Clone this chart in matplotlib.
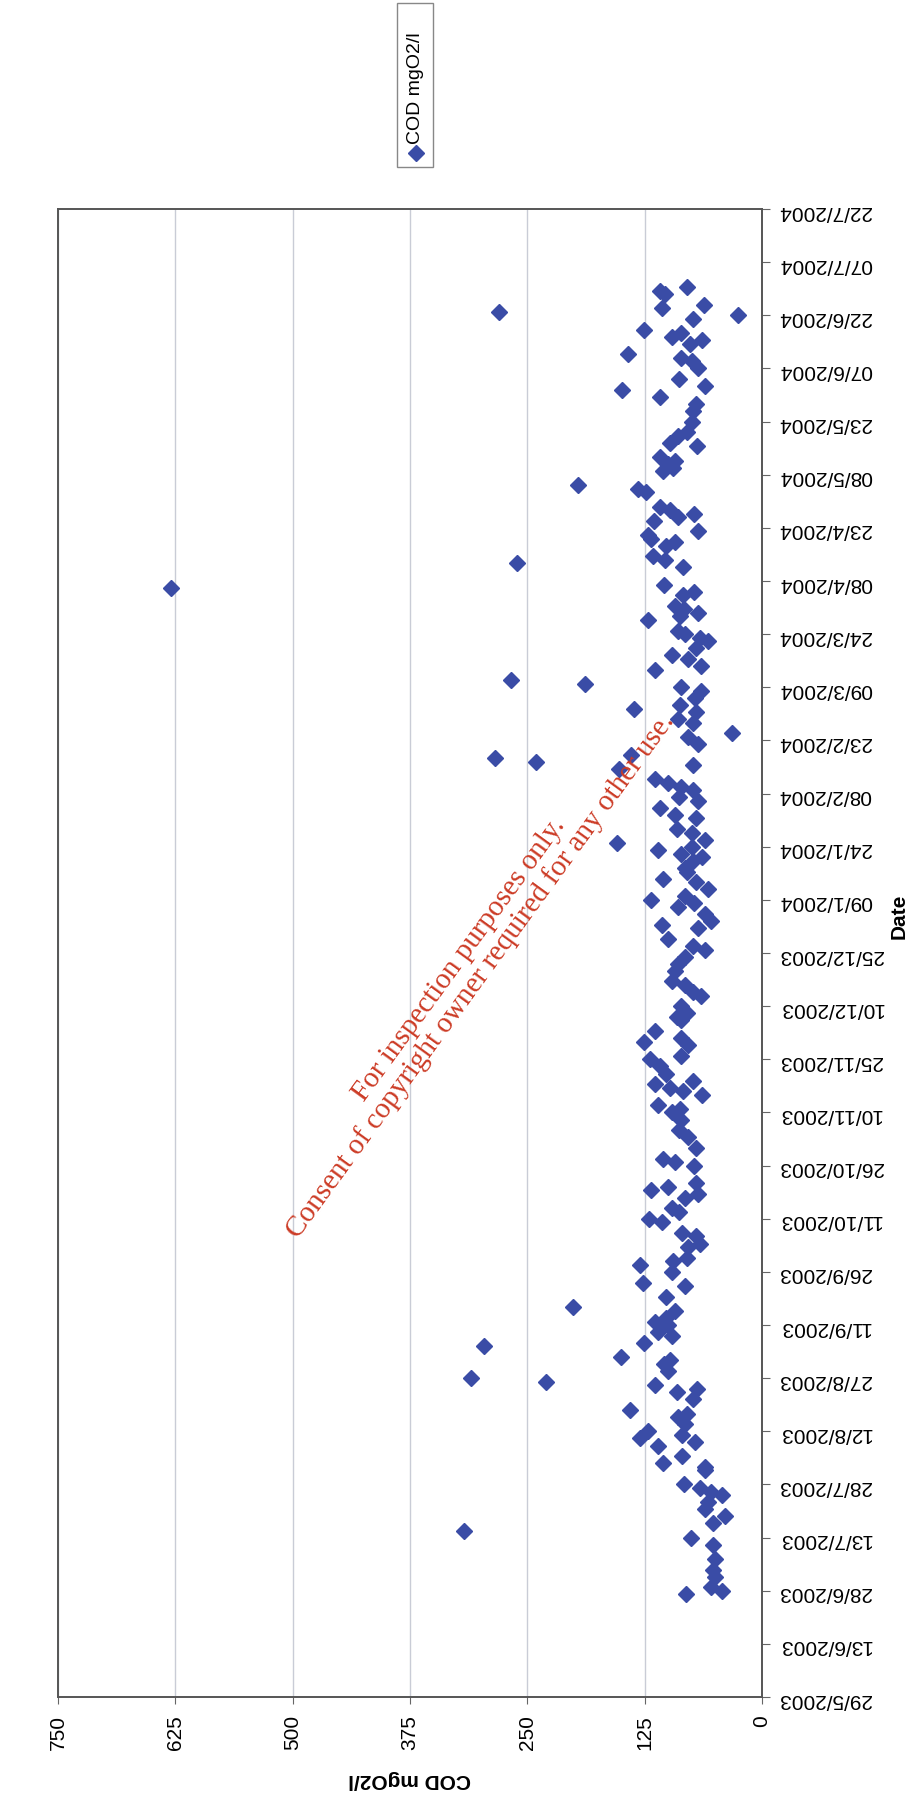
import matplotlib; matplotlib.use('Agg')
import matplotlib.pyplot as plt
from matplotlib.lines import Line2D
from matplotlib.patches import Rectangle
import matplotlib.dates as mdates
import numpy as np
import pandas as pd

plt.rcParams.update({'font.family': ['Liberation Sans', 'DejaVu Sans'], 'font.size': 15})

start = pd.Timestamp('2003-05-29')
end = pd.Timestamp('2004-07-22')

# sampling day (days after 29/5/2003) and COD reading in mgO2/l
day = [29, 30, 31, 34, 36, 39, 43, 45, 47, 49, 51, 53, 55, 57, 58, 59, 60, 64, 65, 66,
       68, 71, 72, 73, 74, 75, 77, 79, 80, 81, 84, 86, 87, 88, 89, 90, 92, 94, 95, 96,
       99, 100, 102, 103, 105, 106, 107, 109, 110, 113, 116, 117, 120, 122, 123, 124, 127, 128, 130, 131,
       134, 135, 137, 138, 141, 142, 143, 144, 145, 150, 151, 152, 155, 158, 160, 163, 165, 166, 167, 170,
       171, 172, 173, 174, 176, 178, 180, 181, 184, 185, 186, 188, 191, 192, 193, 195, 198, 199, 201, 202,
       205, 207, 209, 211, 212, 214, 217, 218, 219, 221, 223, 224, 225, 226, 228, 230, 231, 233, 234, 236,
       237, 238, 239, 240, 241, 242, 244, 245, 248, 249, 251, 253, 254, 256, 257, 258, 259, 262, 263, 264,
       265, 266, 269, 271, 272, 275, 276, 278, 279, 280, 282, 284, 285, 286, 287, 290, 291, 293, 294, 296,
       298, 299, 300, 301, 304, 305, 306, 307, 308, 311, 312, 313, 314, 319, 320, 321, 322, 325, 326, 327,
       328, 329, 332, 333, 334, 335, 336, 340, 341, 342, 346, 347, 348, 349, 350, 353, 354, 356, 357, 360,
       363, 365, 367, 369, 370, 372, 375, 377, 378, 379, 382, 383, 384, 385, 386, 389, 390, 391, 392, 393,
       396, 397, 398]
cod = [81, 43, 54, 50, 52, 50, 52, 76, 317, 52, 39, 61, 57, 43, 54, 66, 83, 61, 61, 105,
       85, 111, 71, 130, 85, 121, 82, 89, 80, 141, 73, 90, 69, 114, 230, 310, 100, 104, 98, 150,
       296, 126, 96, 111, 100, 114, 102, 93, 201, 102, 82, 127, 96, 130, 95, 80, 79, 66, 70, 85,
       107, 120, 88, 96, 82, 68, 118, 100, 70, 72, 93, 105, 70, 79, 88, 86, 96, 87, 111, 64,
       84, 98, 114, 73, 102, 109, 119, 86, 79, 126, 86, 114, 86, 91, 80, 86, 65, 73, 82, 96,
       93, 89, 82, 61, 73, 100, 68, 106, 54, 61, 89, 72, 118, 82, 57, 70, 105, 80, 82, 73,
       64, 86, 111, 75, 154, 61, 75, 91, 70, 93, 109, 68, 88, 73, 86, 100, 114, 152, 73, 241,
       284, 139, 68, 79, 32, 73, 89, 70, 136, 87, 71, 65, 86, 189, 267, 114, 65, 79, 96, 70,
       57, 66, 82, 89, 121, 87, 68, 83, 93, 84, 72, 630, 104, 84, 261, 103, 116, 102, 93, 118,
       121, 68, 115, 89, 72, 98, 109, 123, 132, 196, 105, 95, 100, 93, 109, 69, 98, 89, 80, 75,
       73, 70, 109, 149, 61, 88, 68, 75, 86, 143, 77, 64, 96, 86, 126, 73, 25, 280, 106, 62,
       103, 109, 80]

cod_ticks = [0, 125, 250, 375, 500, 625, 750]
date_ticks = pd.date_range(start, end, freq='15D')

dates = start + pd.to_timedelta(day, unit='D')

blue = '#3a4ca6'
fig = plt.figure(figsize=(9.2, 18.1), dpi=100)
ax = fig.add_axes([0.063, 0.0624, 0.7652, 0.8221])

# page is turned sideways: COD runs along the bottom, dates up the right
ax.plot(cod, dates, ls='none', marker='D', ms=8.5, color=blue, mec=blue, zorder=3)

ax.set_xlim(750, 0)
ax.set_ylim(start, end)
ax.set_xticks(cod_ticks)
ax.set_xticklabels([str(v) for v in cod_ticks], rotation=90)
ax.set_yticks(date_ticks)
ax.yaxis.set_major_formatter(plt.FuncFormatter(
    lambda v, p: (lambda d: f'{d.day:02d}/{d.month}/{d.year}')(mdates.num2date(v))))
ax.yaxis.tick_right()
ax.yaxis.set_label_position('right')
for t in ax.get_yticklabels():
    t.set_rotation(180)
ax.tick_params(axis='y', left=False, right=True, direction='out', length=6, color='#666666', pad=6)
ax.tick_params(axis='x', direction='out', length=5, color='#666666', pad=8)
ax.grid(axis='x', color='#c9ccd6', lw=1.0)
for s in ax.spines.values():
    s.set_color('#555555'); s.set_linewidth(1.4)

ax.set_xlabel('COD mgO2/l', rotation=180, fontweight='bold', labelpad=14)
ax.set_ylabel('Date', rotation=90, fontweight='bold', ha='center', va='center')
ax.yaxis.set_label_coords(1.195, 0.525)

# legend box, turned with the page
fig.add_artist(Rectangle((397/920, 1-167/1810), 36/920, 164/1810, transform=fig.transFigure,
                         fill=False, ec='#888888', lw=1.0))
fig.add_artist(Line2D([416/920], [1-153/1810], transform=fig.transFigure, marker='D', ms=8.5,
                      color=blue, ls='none'))
fig.text(416/920, 1-88/1810, 'COD mgO2/l', rotation=90, ha='center', va='center', fontsize=14)

fig.text(470/920, 1-968/1810,
         'For inspection purposes only.\nConsent of copyright owner required for any other use.',
         rotation=54, rotation_mode='anchor', ha='center', va='center', multialignment='center',
         color='#cc3b25', fontsize=21, family=['Liberation Serif', 'DejaVu Serif'], linespacing=1.0)

fig.savefig('out.png', dpi=100)
